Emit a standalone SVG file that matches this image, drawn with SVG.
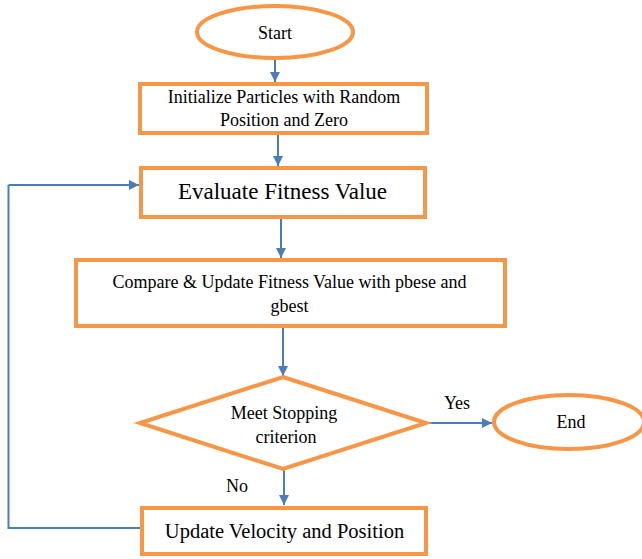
<svg xmlns="http://www.w3.org/2000/svg" width="642" height="559" viewBox="0 0 642 559" font-family="'Liberation Serif', serif">
  <defs>
    <marker id="arrow" viewBox="0 0 10 10" refX="10" refY="5" markerWidth="5" markerHeight="5" orient="auto" markerUnits="strokeWidth">
      <path d="M0,0 L10,5 L0,10 z" fill="#4A7EBB"/>
    </marker>
    <style>
      .shape { fill: #ffffff; stroke: #F79646; stroke-width: 4; }
      .conn { fill: none; stroke: #4A7EBB; stroke-width: 2; marker-end: url(#arrow); }
      .loop { fill: none; stroke: #4A7EBB; stroke-width: 2; }
      .lbl { font-family: 'Liberation Serif', serif; fill: #000000; text-anchor: middle; }
      .small { font-size: 18px; }
      .big { font-size: 23px; }
      .mid { font-size: 20.5px; }
    </style>
  </defs>
  <rect width="642" height="559" fill="#ffffff"/>

  <!-- connectors -->
  <g id="connectors">
    <line class="conn" x1="275" y1="59" x2="275" y2="82"/>
    <line class="conn" x1="278" y1="134" x2="278" y2="166"/>
    <line class="conn" x1="281" y1="219" x2="281" y2="258"/>
    <line class="conn" x1="283" y1="327" x2="283" y2="376"/>
    <line class="conn" x1="427" y1="423" x2="492" y2="423"/>
    <line class="conn" x1="284" y1="470" x2="284" y2="505"/>
    <polyline class="loop" points="141,528 8.5,528 8.5,185"/>
    <line class="conn" x1="8.5" y1="185" x2="139" y2="185"/>
    <text class="lbl small" x="457" y="409">Yes</text>
    <text class="lbl small" x="237" y="492">No</text>
  </g>

  <g id="start">
    <ellipse class="shape" cx="275" cy="32" rx="78" ry="26"/>
    <text class="lbl small" x="275" y="39">Start</text>
  </g>

  <g id="init">
    <rect class="shape" x="140" y="84" width="287" height="49"/>
    <text class="lbl small" x="284" y="103">Initialize Particles with Random</text>
    <text class="lbl small" x="284" y="126">Position and Zero</text>
  </g>

  <g id="evaluate">
    <rect class="shape" x="141" y="168" width="284" height="49"/>
    <text class="lbl big" x="282.5" y="199">Evaluate Fitness Value</text>
  </g>

  <g id="compare">
    <rect class="shape" x="76" y="260" width="429" height="66"/>
    <text class="lbl small" x="289.5" y="288">Compare &amp; Update Fitness Value with pbese and</text>
    <text class="lbl small" x="289.5" y="312">gbest</text>
  </g>

  <g id="decision">
    <polygon class="shape" points="283,377 426,423 283,469 140,423"/>
    <text class="lbl small" x="284" y="419">Meet Stopping</text>
    <text class="lbl small" x="286" y="443">criterion</text>
  </g>

  <g id="end">
    <ellipse class="shape" cx="569" cy="422" rx="75" ry="27"/>
    <text class="lbl small" x="571" y="428">End</text>
  </g>

  <g id="update">
    <rect class="shape" x="142" y="508" width="284" height="46"/>
    <text class="lbl mid" x="284.5" y="538">Update Velocity and Position</text>
  </g>
</svg>
